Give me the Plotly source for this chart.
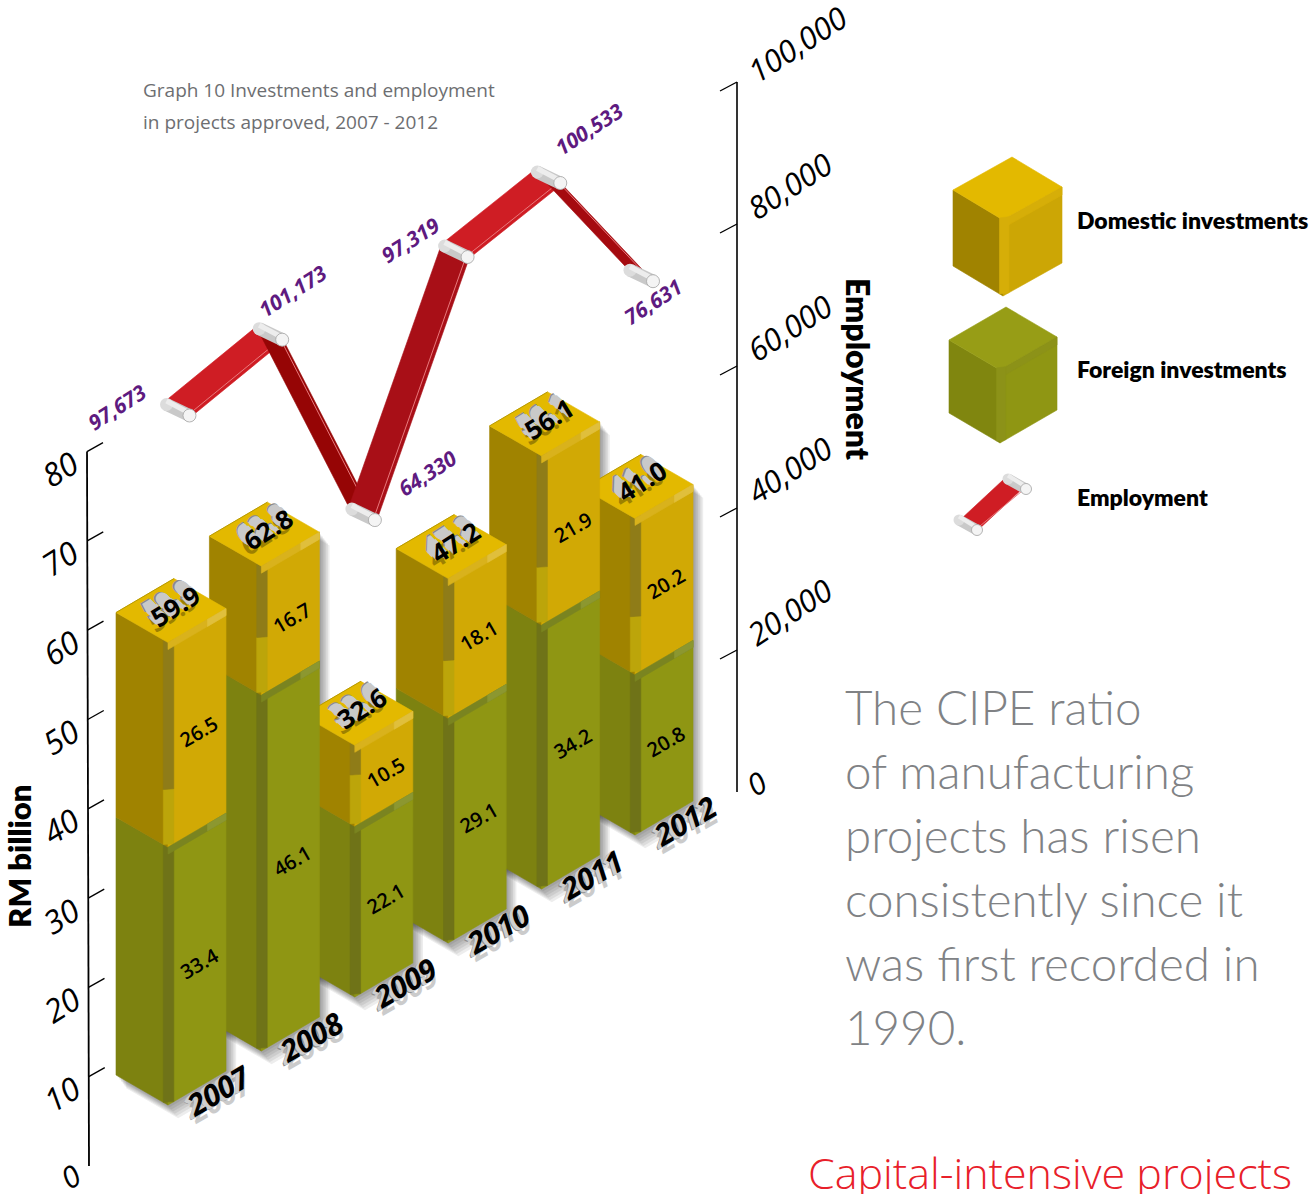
import plotly.graph_objects as go

# ---------- data ----------
years = ["2007", "2008", "2009", "2010", "2011", "2012"]
foreign = [33.4, 46.1, 22.1, 29.1, 34.2, 20.8]
domestic = [26.5, 16.7, 10.5, 18.1, 21.9, 20.2]
totals = [59.9, 62.8, 32.6, 47.2, 56.1, 41.0]
employment = [97673, 101173, 64330, 97319, 100533, 76631]
left_ticks = [0, 10, 20, 30, 40, 50, 60, 70, 80]
right_ticks = [0, 20000, 40000, 60000, 80000, 100000]
text_lines = ["The CIPE ratio", "of manufacturing", "projects has risen",
              "consistently since it", "was first recorded in", "1990."]

# ---------- isometric projection (the chart's scales) ----------
STEP = (93.4, -54.0)
ORIGIN = (168.0, 1105.0)
H = 7.72
LV = (-52.0, -30.0)
RV = (58.0, -34.0)
EMP_K = 6.35 / 1000
EMP_X0, EMP_Y0, EMP_DX = 178.0, 410.0, 92.7
RIB = (14.5, 7.5)


def base(i):
    return ORIGIN[0] + STEP[0] * i, ORIGIN[1] + STEP[1] * i


def left_y(v):
    return 1166 - v * 8.93


def left_x(v):
    return 89 - v * 0.025


def right_y(v):
    return 792 - v * 0.0071


def emp_pt(i):
    x = EMP_X0 + EMP_DX * i
    y = EMP_Y0 - EMP_K * (employment[i] - employment[0]) - 0.578 * (x - EMP_X0)
    return x, y


fig = go.Figure()
ann = []


def poly(pts, color, opacity=1.0, lw=0.6):
    fig.add_trace(go.Scatter(
        x=[p[0] for p in pts] + [pts[0][0]], y=[p[1] for p in pts] + [pts[0][1]],
        mode="lines", fill="toself", fillcolor=color, opacity=opacity,
        line=dict(color=color, width=lw), hoverinfo="skip", showlegend=False))


def line(pts, color, width):
    fig.add_trace(go.Scatter(
        x=[p[0] for p in pts], y=[p[1] for p in pts], mode="lines",
        line=dict(color=color, width=width), hoverinfo="skip", showlegend=False))


def text(x, y, s, size, color="#000", angle=0, fam="Open Sans", style="normal",
         weight=400, xa="center", ya="middle", opacity=1.0):
    ann.append(dict(x=x, y=y, xref="x", yref="y", text=s, showarrow=False, textangle=angle,
                    xanchor=xa, yanchor=ya, opacity=opacity,
                    font=dict(family=fam, size=size, color=color, style=style, weight=weight)))


def add(p, v, k=1.0, dy=0.0):
    return p[0] + v[0] * k, p[1] + v[1] * k + dy


FR, FL, FS = "#8f9613", "#7d8210", "#6f7318"
DR, DL, DT = "#d1a905", "#a08300", "#e3b900"


def box_faces(fb, h, lv, rv, cr, cl):
    ft = (fb[0], fb[1] - h)
    poly([add(fb, lv), fb, ft, add(ft, lv)], cl)
    poly([fb, add(fb, rv), add(ft, rv), ft], cr)
    return ft


def strip(b, t, color):
    a, c = 0.09, 0.10
    poly([add(b, LV, a), add(b, RV, c), add(t, RV, c), add(t, LV, a)], color)


def band(ft, color, sheen, thick=7):
    poly([ft, add(ft, RV), add(ft, RV, 1, thick), (ft[0], ft[1] + thick)], color)
    p = add(ft, RV, 0.68)
    poly([p, add(ft, RV), add(ft, RV, 1, thick), add(p, (0, 0), 0, thick)], sheen)


def silhouette(i, dx, dy, grow=0):
    fb = base(i)
    h = (foreign[i] + domestic[i]) * H
    ft = (fb[0], fb[1] - h)
    pts = [add(fb, LV), fb, add(fb, RV), add(ft, RV), add(add(ft, LV), RV), add(ft, LV)]
    return [(x + dx, y + dy) for x, y in pts]


# soft shadows behind the bars
for i in range(len(years)):
    for k in range(1, 7):
        poly(silhouette(i, k * 1.7, k * 2.2), "#000000", 0.07, 0)

AX = dict(style="italic", weight=400)
# left axis
line([(left_x(80), left_y(80)), (left_x(0), left_y(0))], "#000", 1.8)
for v in left_ticks[1:]:
    line([(left_x(v), left_y(v)), (left_x(v) + 16, left_y(v) - 9)], "#000", 1.4)
    text(left_x(v) - 27, left_y(v) + 17, str(v), 32, angle=-32, **AX)
text(70, 1176, "0", 30, angle=-32, **AX)

# right axis
line([(737, right_y(100000)), (737, right_y(0))], "#000", 1.6)
for v in right_ticks[1:]:
    line([(737, right_y(v)), (720, right_y(v) + 9)], "#000", 1.4)
    text(789 + (8 if v == 100000 else 0), right_y(v) - 38, f"{v:,}", 31, angle=-33, **AX)
text(756, 783, "0", 30, angle=-32, **AX)

# bars, back to front
for i in reversed(range(len(years))):
    fb = base(i)
    fh, dh = foreign[i] * H, domestic[i] * H
    mid = box_faces(fb, fh, LV, RV, FR, FL)
    strip(fb, mid, FS)
    top = box_faces(mid, dh, LV, RV, DR, DL)
    low = (mid[0], mid[1] - min(55, dh * 0.6))
    strip(mid, low, "#bca50a")
    strip(low, top, "#8f7c18")
    band(mid, "#7a8420", "#8c9730")
    poly([top, add(top, RV), add(add(top, RV), LV), add(top, LV)], DT)
    line([add(top, LV), add(add(top, LV), RV)], "#b89a00", 1)
    band(top, "#d9b21c", "#e0bf3c")

    cx, cy = add(fb, RV, 0.5)
    text(cx + 2, cy - fh / 2 + 4, f"{foreign[i]:.1f}", 20, angle=-30, weight=600)
    text(cx + 2, cy - fh - dh / 2 + 4, f"{domestic[i]:.1f}", 20, angle=-30, weight=600)

    tx, ty = add(add(top, LV, 0.5), RV, 0.5)
    tx, ty = tx + 4, ty - 5
    text(tx - 3, ty + 5, f"{totals[i]:.1f}", 26, "#000", angle=-32, weight=700, opacity=0.3)
    for k in range(8, 0, -1):
        text(tx - k * 1.2, ty - k * 0.9, f"{totals[i]:.1f}", 26, "#8a8a8a" if k == 8 else "#c9c9c9",
             angle=-32, weight=700)
    text(tx, ty, f"{totals[i]:.1f}", 26, "#000", angle=-32, weight=700)

    yx, yy = fb[0] + 50, fb[1] - 15
    text(yx + 1, yy + 7, years[i], 30, "#000", angle=-30, style="italic", weight=700, opacity=0.2)
    for k in range(5, 0, -1):
        text(yx - k * 0.8, yy + k * 0.7, years[i], 30,
             "#8d8d8d" if k == 5 else "#cfcfcf", angle=-30, style="italic", weight=700)
    text(yx, yy, years[i], 30, "#000", angle=-30, style="italic", weight=700)

# employment ribbon
seg_cols = ["#cf1d24", "#960505", "#a80f17", "#cf1d24", "#a50a0f"]
pts = [emp_pt(i) for i in range(len(employment))]
for i in range(len(pts) - 1):
    a, b = pts[i], pts[i + 1]
    poly([add(a, RIB, -1), add(a, RIB, 0.9), add(b, RIB, 0.9), add(b, RIB, -1)], seg_cols[i])
    line([add(a, RIB, 0.68), add(b, RIB, 0.68)], "#e8797c", 1)


def roller(p, v=(11.5, 5.5), w=13):
    a, b = add(p, v, -1), add(p, v, 1)
    fig.add_trace(go.Scatter(x=[a[0], b[0]], y=[a[1], b[1]], mode="lines+markers",
                             line=dict(color="#c9c9c9", width=w),
                             marker=dict(size=w, color="#dcdcdc", line=dict(width=0)),
                             hoverinfo="skip", showlegend=False))
    line([add(a, (0, -3.5)), add(b, (-2, -3.5))], "#ededed", w * 0.4)
    fig.add_trace(go.Scatter(x=[b[0]], y=[b[1]], mode="markers",
                             marker=dict(size=w, color="#f4f4f4", line=dict(color="#a5a5a5", width=0.8)),
                             hoverinfo="skip", showlegend=False))


for p in pts:
    roller(p)

emp_offsets = [(-61, -3), (22, -43), (64, -42), (-46, -12), (40, -49), (11, 26)]
for i, v in enumerate(employment):
    text(pts[i][0] + emp_offsets[i][0], pts[i][1] + emp_offsets[i][1], f"{v:,}", 21, "#5e1a80",
         angle=-33, style="italic", weight=700)


# legend cubes
def cube(fb, h, lv, rv, cr, cl, ct, cb):
    ft = box_faces(fb, h, lv, rv, cr, cl)
    poly([ft, add(ft, rv), add(add(ft, rv), lv), add(ft, lv)], ct)
    poly([ft, add(ft, rv), add(ft, rv, 1, 8), (ft[0], ft[1] + 8)], cb)
    poly([add(fb, lv, 0.07), add(fb, rv, 0.1), add(ft, rv, 0.1), add(ft, lv, 0.07)], cb)


cube((1003, 296), 76, (-50, -30), (59, -33), "#cca605", "#a08300", "#e3b900", "#d6ae08")
cube((1000, 443), 73, (-51, -30), (57, -33), "#8f9613", "#80860f", "#979d16", "#8c9218")
poly([(960, 520), (1003, 480), (1021, 490), (978, 530)], "#cf1d24")
line([(980, 526), (1022, 491)], "#e8797c", 1)
roller((968, 525), (9, 5), 11)
roller((1017, 484), (9, 5), 11)

LEG = "Lato"
text(1075, 220, "Domestic investments", 23, xa="left", fam=LEG, weight=800)
text(1075, 369, "Foreign investments", 23, xa="left", fam=LEG, weight=800)
text(1075, 497, "Employment", 23, xa="left", fam=LEG, weight=800)

text(859, 369, "Employment", 32, angle=90, fam=LEG, weight=800)
text(19, 857, "RM billion", 31, angle=-90, fam=LEG, weight=800)

text(141, 90, "Graph 10 Investments and employment", 19, "#6d6e71", xa="left")
text(141, 122, "in projects approved, 2007 - 2012", 19, "#6d6e71", xa="left")

for j, s in enumerate(text_lines):
    text(843, 706 + 64 * j, s, 47.5, "#808285", xa="left", fam="Lato", weight=300)

text(806, 1172, "Capital-intensive projects", 43, "#e8202a", xa="left", fam="Open Sans", weight=300)

fig.update_layout(
    width=1314, height=1194, margin=dict(l=0, r=0, t=0, b=0),
    paper_bgcolor="white", plot_bgcolor="white", showlegend=False, annotations=ann,
    xaxis=dict(range=[0, 1314], visible=False, fixedrange=True),
    yaxis=dict(range=[1194, 0], visible=False, fixedrange=True),
)
fig.write_html("out.html", config=dict(displayModeBar=False),
               post_script="document.body.style.margin='0';document.body.style.overflow='hidden';")
